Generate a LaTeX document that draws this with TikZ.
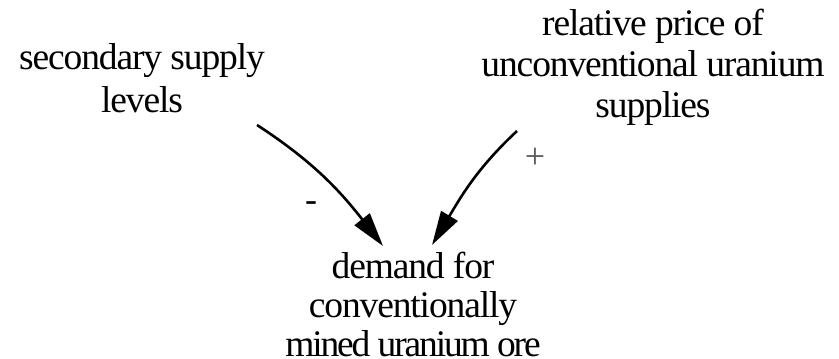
\documentclass[tikz,border=0pt]{standalone}
\usepackage{fontspec}
\setmainfont[LetterSpace=-3]{Liberation Serif}
\usetikzlibrary{arrows.meta}
\begin{document}
\begin{tikzpicture}[x=1pt,y=-1pt,
  lbl/.style={align=center,inner sep=0pt,font=\fontsize{37.5}{41}\selectfont},
  sgn/.style={inner sep=0pt,font=\fontsize{36}{40}\selectfont},
  link/.style={line width=2.6pt,-{Triangle[length=34pt,width=19pt]}}]
\useasboundingbox (0,0) rectangle (839,359);
\node[lbl,font=\fontsize{37.5}{43}\selectfont] (ssl) at (142,78.5) {secondary supply\\levels};
\node[lbl] (rp) at (653,67) {relative price of\\unconventional uranium\\supplies};
\node[lbl,font=\fontsize{37.5}{39}\selectfont] (dem) at (413,304) {demand for\\conventionally\\{\addfontfeatures{LetterSpace=-5.7}mined uranium ore}};
\coordinate (s1) at (257,125);
\coordinate (e1) at (383,246);
\coordinate (s2) at (517,131);
\coordinate (e2) at (432,245);
\draw[link] (s1) to[out=-33,in=128] (e1);
\draw[link] (s2) to[out=-137,in=59] (e2);
\node[sgn] (minus) at (311,207) {-};
\node[sgn,text=black!65] (plus) at (535,158) {+};
\end{tikzpicture}
\end{document}
